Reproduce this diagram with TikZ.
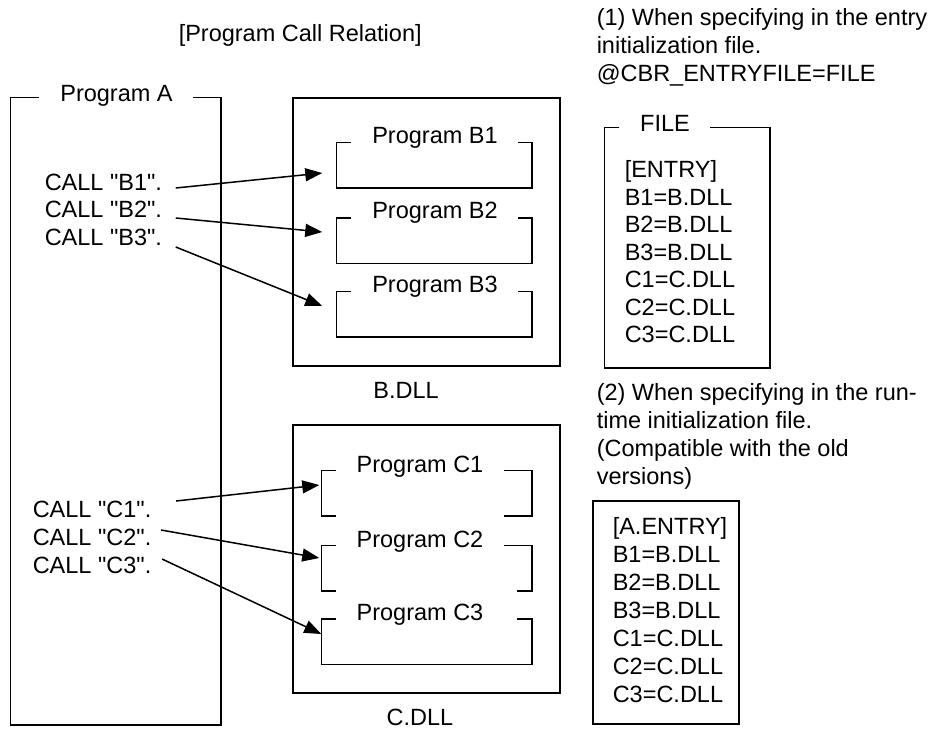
\documentclass[tikz,border=0pt]{standalone}
\usepackage{fontspec}
\setmainfont{Liberation Sans}
\usetikzlibrary{arrows.meta}

\tikzset{
  txt/.style={inner sep=0pt, font=\fontsize{23.5}{28}\selectfont},
  lbl/.style={txt, anchor=base},
  calltxt/.style={txt, anchor=base west},
  progbox/.style={inner sep=0pt, minimum height=44pt},
  dllbox/.style={draw, inner sep=0pt, minimum width=267pt, minimum height=268pt},
  callarrow/.style={-{Triangle[length=17pt,width=13pt]}}
}
\newcommand{\qq}[1]{\textquotedbl#1\textquotedbl}

\begin{document}
\begin{tikzpicture}[x=1pt, y=-1pt, line width=1.5pt]
\useasboundingbox (0,0) rectangle (933,742);

\node[txt, anchor=base west] (title) at (178,41) {[Program Call Relation]};

% calling program
\node[inner sep=0pt, minimum width=209pt, minimum height=626pt] (proga) at (115.5,411) {};
\draw ([xshift=29]proga.north west) -- (proga.north west) -- (proga.south west)
  -- (proga.south east) -- (proga.north east) -- ++(-28,0);
\node[lbl] (pa) at (116.5,101.5) {Program A};

\node[calltxt] (cb1) at (44,190) {CALL \qq{B1}.};
\node[calltxt] (cb2) at (44,217) {CALL \qq{B2}.};
\node[calltxt] (cb3) at (44,245) {CALL \qq{B3}.};
\node[calltxt] (cc1) at (32,517) {CALL \qq{C1}.};
\node[calltxt] (cc2) at (32,545) {CALL \qq{C2}.};
\node[calltxt] (cc3) at (32,573) {CALL \qq{C3}.};

% B.DLL
\node[dllbox] (bdll) at (426.5,232) {};
\node[lbl] (bname) at (406,398.5) {B.DLL};
\foreach \n/\y in {1/165, 2/240.5, 3/314} {
  \node[progbox, minimum width=194pt] (b\n) at (434,\y) {};
  \draw ([xshift=15]b\n.north west) -- (b\n.north west) -- (b\n.south west)
    -- (b\n.south east) -- (b\n.north east) -- ++(-14,0);
  \node[lbl] (lb\n) at ([shift={(1,1)}]b\n.north) {Program B\n};
}

% C.DLL
\node[dllbox] (cdll) at (426.5,559) {};
\node[lbl] (cname) at (420,725.5) {C.DLL};
\foreach \n/\y in {1/493, 2/568, 3/641.5}
  \node[progbox, minimum width=209pt] (c\n) at (426.5,\y) {};
\draw ([xshift=15]c1.north west) -- (c1.north west) -- (c1.south west) -- ++(15,0);
\draw ([xshift=-28]c1.north east) -- (c1.north east) -- (c1.south east) -- ++(-28,0);
\draw ([xshift=15]c2.north west) -- (c2.north west) -- (c2.south west) -- ++(15,0);
\draw ([xshift=-28]c2.north east) -- (c2.north east) -- (c2.south east) -- ++(-15,0);
\draw ([xshift=15]c3.north west) -- (c3.north west) -- (c3.south west)
  -- (c3.south east) -- (c3.north east) -- ++(-15,0);
\foreach \n in {1,2,3}
  \node[lbl] (lc\n) at ([shift={(-6.5,2)}]c\n.north) {Program C\n};

% calls
\draw[callarrow] ([shift={(13,-2)}]cb1.base east) -- ([shift={(-14,8)}]b1.west);
\draw[callarrow] ([shift={(13,1)}]cb2.base east) -- ([shift={(-14,-8.5)}]b2.west);
\draw[callarrow] ([shift={(13,2)}]cb3.base east) -- ([shift={(-14,-8)}]b3.west);
\draw[callarrow] ([shift={(24,-16)}]cc1.base east) -- ([shift={(-2,-8)}]c1.west);
\draw[callarrow] ([shift={(9,-15)}]cc2.base east) -- ([shift={(-2,-10)}]c2.west);
\draw[callarrow] ([shift={(10,-14)}]cc3.base east) -- ([shift={(0,-7.5)}]c3.west);

% (1) entry initialization file
\node[txt, anchor=north west, align=left] (note1) at (596,8)
  {(1) When specifying in the entry\\initialization file.\\@CBR\_ENTRYFILE=FILE};
\node[inner sep=0pt, minimum width=164pt, minimum height=239pt] (file) at (687,247.5) {};
\draw ([xshift=15]file.north west) -- (file.north west) -- (file.south west)
  -- (file.south east) -- (file.north east) -- ++(-60,0);
\node[lbl] (fname) at (665,131.5) {FILE};
\node[txt, anchor=north west, align=left, font=\fontsize{23.5}{27.5}\selectfont] (entries1) at (624,160)
  {[ENTRY]\\B1=B.DLL\\B2=B.DLL\\B3=B.DLL\\C1=C.DLL\\C2=C.DLL\\C3=C.DLL};

% (2) run-time initialization file
\node[txt, anchor=north west, align=left, font=\fontsize{23.5}{27.8}\selectfont] (note2) at (596,383)
  {(2) When specifying in the run-\\time initialization file.\\(Compatible with the old\\versions)};
\node[draw, inner sep=0pt, minimum width=146pt, minimum height=223pt] (rtbox) at (666,612.5) {};
\node[txt, anchor=north west, align=left] (entries2) at (612,517)
  {[A.ENTRY]\\B1=B.DLL\\B2=B.DLL\\B3=B.DLL\\C1=C.DLL\\C2=C.DLL\\C3=C.DLL};
\end{tikzpicture}
\end{document}
